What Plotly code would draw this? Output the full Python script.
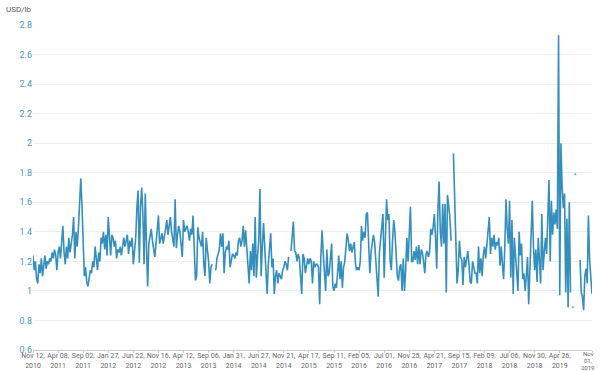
import plotly.graph_objects as go
import pandas as pd

start_date = "2010-11-12"
n_weeks = 469

# weekly prices, USD/lb (None = missing week)
seg_a = [1.24, 1.14, 1.20, 1.08, 1.05, 1.18, 1.12, 1.22, 1.10, 1.16,
         1.24, 1.15, 1.20, 1.18, 1.22, 1.20, 1.26, 1.22, 1.28, 1.24,
         1.14, 1.26, 1.30, 1.22, 1.34, 1.44, 1.26, 1.18, 1.30, 1.22,
         1.36, 1.26, 1.32, 1.38, 1.50, 1.22, 1.40, 1.30, 1.42, 1.66,
         1.76, 1.58, 1.30, 1.10, 1.16, 1.06, 1.03, 1.10, 1.14, 1.12,
         1.20, 1.16, 1.30, 1.22, 1.14, 1.26, 1.20, 1.36, 1.32, 1.40,
         1.28, 1.38, 1.24, 1.50, 1.40, 1.24, 1.38, 1.36, 1.30, 1.34,
         1.22, 1.28, 1.26, 1.30, 1.24, 1.32, 1.36, 1.30, 1.34, 1.38]
seg_b = [1.25, 1.34, 1.30, 1.36, 1.18, 1.28, 1.36, 1.57, 1.68, 1.19,
         1.57, 1.70, 1.52, 1.18, 1.66, 1.30, 1.03, 1.32, 1.36, 1.42,
         1.34, 1.28, 1.23, 1.32, 1.40, 1.51, 1.32, 1.36, 1.39, 1.32,
         1.36, 1.42, 1.48, 1.38, 1.44, 1.50, 1.40, 1.34, 1.30, 1.62,
         1.29, 1.38, 1.44, 1.40, 1.30, 1.23, 1.48, 1.40, 1.42, 1.44,
         1.40, 1.34, 1.42, 1.38, 1.51, 1.30, 1.07, 1.10, 1.43, 1.36,
         1.32, 1.30, 1.40, 1.18, 1.10, 1.36, 1.28, 1.20, 1.05, 1.16,
         1.18, None, None, 1.14, 1.22, 1.25, 1.28, 1.39]
seg_c = [1.30, 1.39, 1.12, 1.26, 1.30, 1.28, 1.34, 1.16, 1.22, 1.25,
         1.24, 1.22, 1.26, 1.24, 1.34, 1.36, 1.30, 1.34, 1.44, 1.30,
         1.41, 1.30, 1.20, 1.05, 1.27, 1.14, 1.32, 1.10, 1.50, 1.09,
         1.24, 1.34, 1.69, 1.10, 1.30, 1.46, 1.30, 1.16, 0.98, 1.18,
         1.30, 1.39, 1.16, 1.22, 0.98, 1.10, 1.14, 1.05, 1.12, 1.10,
         1.08, 1.14, 1.16, 1.20, 1.18, 1.14, 1.23, None, 1.27, 1.40,
         1.47, 1.27, 1.26, 1.20, 1.25, 1.22, 1.08, 0.98, 1.25, 1.22,
         1.12, 1.16, 1.22, 1.18, 1.22, 1.20, 1.05, 1.20, 1.16, 1.18]
seg_d = [1.18, 1.16, 0.91, 1.23, 1.41, 1.25, 1.12, 1.00, 1.28, 1.10,
         1.12, 1.22, 1.32, 1.03, 1.00, 1.05, 1.02, 1.12, 1.24, 1.08,
         1.20, 1.02, 1.16, 1.20, 1.29, 1.39, 1.34, 1.27, 1.32, 1.26,
         1.30, 1.33, 1.18, 1.14, 1.16, 1.14, 1.20, 1.44, 1.34, 1.40,
         1.36, 1.52, 1.53, 1.30, 1.12, 1.26, 1.34, 1.38, 1.33, 1.20,
         1.08, 0.96, 1.26, 1.36, 1.48, 1.52, 1.09, 1.40, 1.62, 1.48,
         1.52, 1.20, 1.14, 1.34, 1.48, 1.40, 1.22, 1.10, 1.07, 1.16,
         1.18, 1.00, 1.22, 1.00, 1.14, 1.36, 1.20, 1.40, 1.57, 1.20]
seg_e = [1.20, 1.27, 1.21, 1.30, 1.18, 1.31, 1.18, 1.28, 1.26, 1.20,
         1.12, 1.25, 1.27, 1.23, 1.26, 1.42, 1.38, 1.43, 1.52, 1.36,
         1.15, 1.55, 1.74, 1.40, 1.30, 1.59, 1.32, 1.59, 0.99, 1.65,
         1.57, 1.50, 1.34, None, 1.93, 1.60, 1.40, 1.05, 1.14, 1.34,
         1.23, 1.21, 1.04, 1.23, 1.16, 1.21, 1.27, 1.18, 1.06, 1.05,
         1.20, 1.16, 1.12, 1.12, 1.05, 1.30, 1.12, 1.22, 1.10, 1.24,
         1.30, 1.22, 1.33, 1.40, 1.50, 1.25, 1.36, 1.30, 1.38, 1.28,
         1.33, 1.31, 1.36, 1.17, 1.30, 1.18]
seg_f = [1.08, 1.30, 1.62, 1.42, 1.32, 1.61, 1.09, 1.48, 0.98, 1.36,
         1.24, 1.16, 1.00, 1.40, 1.24, 1.32, 1.08, 1.12, 1.00, 1.10,
         1.23, 0.91, 1.12, 1.30, 1.61, 1.30, 1.14, 1.28, 1.06, 1.36,
         1.21, 1.05, 1.52, 1.14, 1.26, 1.36, 1.25, 1.50, 1.75, 1.20,
         1.61, 1.38, 1.53, 1.45, 1.55, 1.42, 2.73, 0.97, 2.00, 1.70,
         1.56, 1.66, 0.99, 1.49, 0.89, 1.60, 0.99, None, 0.89, None,
         1.79, None, None, None, 1.21, 0.99, 0.96, 0.87, 1.10, 1.15,
         1.05, 1.51, 1.21, 1.10, 0.98]

prices = seg_a + seg_b + seg_c + seg_d + seg_e + seg_f
dates = pd.date_range(start_date, periods=n_weeks, freq="7D")

y_ticks = [0.6, 0.8, 1.0, 1.2, 1.4, 1.6, 1.8, 2.0, 2.2, 2.4, 2.6, 2.8]
y_tick_text = ["0.6", "0.8", "1", "1.2", "1.4", "1.6", "1.8", "2", "2.2", "2.4", "2.6", "2.8"]
x_tick_step = 21

tick_idx = list(range(0, n_weeks - x_tick_step, x_tick_step)) + [n_weeks - 1]
tick_vals = [dates[i] for i in tick_idx]
tick_text = [d.strftime("%b %d,<br>%Y") for d in tick_vals]
tick_text[-1] = ""  # last label drawn below as three tighter lines
last_label_lines = [tick_vals[-1].strftime("%b"), tick_vals[-1].strftime("%d,"),
                    tick_vals[-1].strftime("%Y")]

# markers only for isolated points (no neighbours)
sizes = []
for i, v in enumerate(prices):
    prev_ok = i > 0 and prices[i - 1] is not None
    next_ok = i < len(prices) - 1 and prices[i + 1] is not None
    sizes.append(3 if (v is not None and not prev_ok and not next_ok) else 0)

line_color = "#358fbd"
label_color = "#666666"

fig = go.Figure()
fig.add_trace(go.Scatter(
    x=dates, y=prices, mode="lines+markers",
    line=dict(color=line_color, width=1.6),
    marker=dict(size=sizes, color=line_color),
    connectgaps=False, hoverinfo="x+y", showlegend=False,
))

annotations = [dict(
    text="USD/lb", xref="paper", yref="paper", x=0, y=1,
    xanchor="left", yanchor="bottom", xshift=-29, yshift=9,
    showarrow=False, font=dict(size=8, color="#555555"),
)]
for k, line in enumerate(last_label_lines):
    annotations.append(dict(
        text=line, xref="x", yref="paper", x=tick_vals[-1], y=0,
        xanchor="center", yanchor="middle", xshift=-4, yshift=-3.5 - 7 * k,
        borderpad=0, showarrow=False, font=dict(size=6, color=label_color),
    ))

fig.update_layout(
    width=600, height=371,
    margin=dict(l=33, r=8, t=25, b=21),
    paper_bgcolor="white", plot_bgcolor="white",
    font=dict(family="Roboto, Arial, sans-serif"),
    xaxis=dict(
        range=[dates[0], dates[-1]], automargin=False,
        tickvals=tick_vals, ticktext=tick_text,
        tickfont=dict(size=7, color=label_color),
        ticks="outside", ticklen=2, tickcolor="#cccccc",
        ticklabelstandoff=-3,
        showgrid=False, showline=True, linecolor="#cccccc", linewidth=1,
        zeroline=False, tickangle=0,
    ),
    yaxis=dict(
        range=[0.6, 2.8], tickvals=y_ticks, ticktext=y_tick_text,
        automargin=False,
        tickfont=dict(size=9, color="#4a98c4"),
        showgrid=True, gridcolor="#eeeeee", gridwidth=1,
        zeroline=False, showline=False, ticks="",
    ),
    annotations=annotations,
)

fig.write_html(
    "out.html",
    config={"displayModeBar": False},
    post_script="document.body.style.margin='0';document.body.style.padding='0';document.body.style.overflow='hidden';",
)
